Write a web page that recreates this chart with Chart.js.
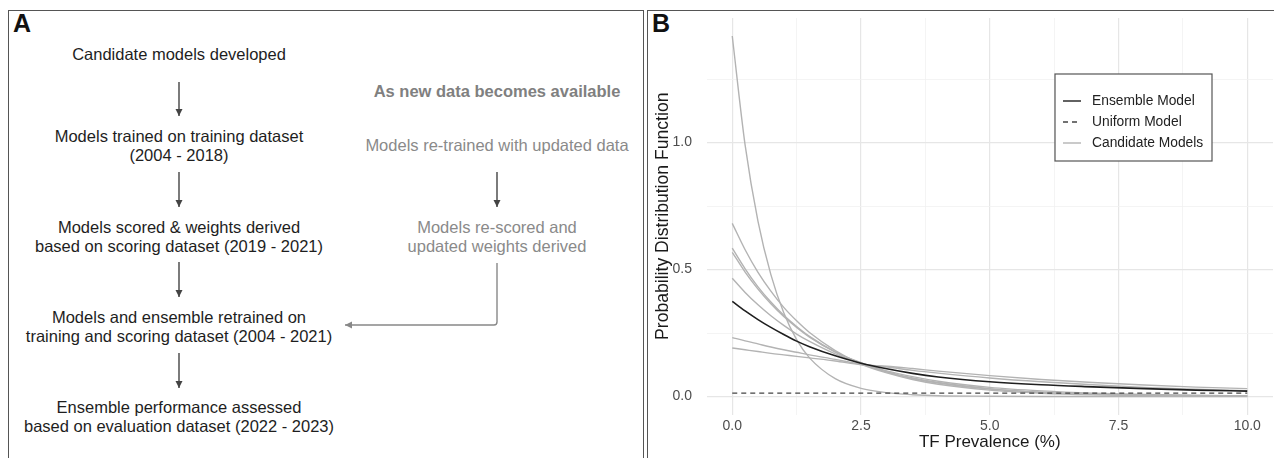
<!DOCTYPE html>
<html>
<head>
<meta charset="utf-8">
<script src="https://cdn.jsdelivr.net/npm/chart.js@4.4.0/dist/chart.umd.min.js"></script>
<style>
  body { margin: 0; width: 1274px; height: 458px; background: #fff; position: relative; overflow: hidden;
         font-family: "Liberation Sans", Arial, sans-serif; }
  .panel { position: absolute; border: 1.5px solid #555; box-sizing: border-box; }
  .tag { position: absolute; font-weight: bold; font-size: 25px; color: #111; }
  .step { position: absolute; width: 440px; text-align: center; font-size: 16.5px; line-height: 19px; color: #1e1e1e; white-space: nowrap; }
  .later { color: #8a8a8a; }
  #flow { position: absolute; left: 0; top: 0; }
  #wrapB { position: absolute; left: 648px; top: 11px; width: 626px; height: 447px; }
</style>
</head>
<body>
<div class="panel" style="left:8px;top:10px;width:636px;height:470px;"></div>
<div class="panel" style="left:647px;top:10px;width:640px;height:470px;"></div>
<div class="tag" style="left:13px;top:9px;">A</div>
<div class="tag" style="left:652px;top:9px;">B</div>

<div class="step" style="left:-41px;top:45px;">Candidate models developed</div>
<div class="step" style="left:-41px;top:127px;">Models trained on training dataset<br>(2004 - 2018)</div>
<div class="step" style="left:-41px;top:218px;">Models scored &amp; weights derived<br>based on scoring dataset (2019 - 2021)</div>
<div class="step" style="left:-41px;top:308px;">Models and ensemble retrained on<br>training and scoring dataset (2004 - 2021)</div>
<div class="step" style="left:-41px;top:398px;">Ensemble performance assessed<br>based on evaluation dataset (2022 - 2023)</div>

<div class="step later" style="left:277px;top:82px;font-weight:bold;color:#808080;">As new data becomes available</div>
<div class="step later" style="left:277px;top:136px;">Models re-trained with updated data</div>
<div class="step later" style="left:277px;top:218px;">Models re-scored and<br>updated weights derived</div>

<svg id="flow" width="640" height="458">
  <defs>
    <marker id="headDark" markerWidth="8" markerHeight="10" refX="7" refY="5" orient="auto" markerUnits="userSpaceOnUse">
      <path d="M0,1.5 L7,5 L0,8.5 Z" fill="#444"/>
    </marker>
    <marker id="headGray" markerWidth="8" markerHeight="10" refX="7" refY="5" orient="auto" markerUnits="userSpaceOnUse">
      <path d="M0,1.5 L7,5 L0,8.5 Z" fill="#888"/>
    </marker>
  </defs>
  <g stroke="#444" stroke-width="1.4" fill="none">
    <line x1="179" y1="82" x2="179" y2="116" marker-end="url(#headDark)"/>
    <line x1="179" y1="172" x2="179" y2="207" marker-end="url(#headDark)"/>
    <line x1="179" y1="262" x2="179" y2="297" marker-end="url(#headDark)"/>
    <line x1="179" y1="353" x2="179" y2="388" marker-end="url(#headDark)"/>
    <line x1="497" y1="172" x2="497" y2="207" marker-end="url(#headDark)"/>
  </g>
  <path d="M497,263 L497,322 Q497,325 494,325 L345,325" stroke="#888" stroke-width="1.4" fill="none" marker-end="url(#headGray)"/>
</svg>

<div id="wrapB"><canvas id="pdfChart" width="626" height="447"></canvas></div>

<script>
// TF prevalence (%) sample points
const prevalence = [0, 0.25, 0.5, 0.75, 1, 1.25, 1.5, 2, 2.5, 3, 3.5, 4, 5, 6, 7, 8, 9, 10];

const ensembleModel = [0.375, 0.337, 0.303, 0.272, 0.244, 0.218, 0.196, 0.16, 0.131, 0.109, 0.091, 0.077, 0.058, 0.046, 0.038, 0.031, 0.025, 0.021];
const uniformModel  = [0.013, 0.013, 0.013, 0.013, 0.013, 0.013, 0.013, 0.013, 0.013, 0.013, 0.013, 0.013, 0.013, 0.013, 0.013, 0.013, 0.013, 0.013];

const candidate1 = [1.42, 0.99, 0.69, 0.48, 0.33, 0.224, 0.152, 0.07, 0.032, 0.015, 0.007, 0.003, 0.001, 0, 0, 0, 0, 0];
const candidate2 = [0.682, 0.578, 0.489, 0.415, 0.351, 0.298, 0.252, 0.181, 0.128, 0.093, 0.067, 0.048, 0.025, 0.013, 0.0066, 0.0034, 0.0017, 0.0009];
const candidate3 = [0.584, 0.503, 0.432, 0.372, 0.32, 0.276, 0.237, 0.176, 0.131, 0.096, 0.071, 0.053, 0.029, 0.016, 0.0087, 0.0048, 0.0026, 0.0014];
const candidate4 = [0.568, 0.49, 0.423, 0.365, 0.315, 0.272, 0.234, 0.175, 0.133, 0.098, 0.073, 0.055, 0.031, 0.017, 0.0095, 0.0053, 0.003, 0.0017];
const candidate5 = [0.466, 0.41, 0.361, 0.318, 0.28, 0.246, 0.217, 0.168, 0.132, 0.101, 0.078, 0.06, 0.036, 0.022, 0.013, 0.0078, 0.0047, 0.0028];
const candidate6 = [0.232, 0.219, 0.207, 0.195, 0.184, 0.174, 0.164, 0.146, 0.127, 0.116, 0.103, 0.092, 0.073, 0.058, 0.046, 0.036, 0.029, 0.023];
const candidate7 = [0.191, 0.184, 0.177, 0.17, 0.164, 0.158, 0.152, 0.14, 0.125, 0.119, 0.11, 0.1, 0.082, 0.067, 0.055, 0.045, 0.037, 0.031];
const candidates = [candidate1, candidate2, candidate3, candidate4, candidate5, candidate6, candidate7];

// axis ticks (majors labelled, minors only get a grid line)
const xTicks = [0, 1.25, 2.5, 3.75, 5, 6.25, 7.5, 8.75, 10];
const xTickLabels = ['0.0', '', '2.5', '', '5.0', '', '7.5', '', '10.0'];
const yTicks = [0, 0.25, 0.5, 0.75, 1, 1.25];
const yTickLabels = ['0.0', '', '0.5', '', '1.0', ''];

const legendLabels = ['Ensemble Model', 'Uniform Model', 'Candidate Models'];

const toPoints = (ys) => ys.map((y, i) => ({ x: prevalence[i], y: y }));

Chart.defaults.font.family = '"Liberation Sans", Arial, sans-serif';

const datasets = [
  { label: legendLabels[1], data: toPoints(uniformModel), borderColor: '#444', borderWidth: 1.3, borderDash: [5, 4] },
  { label: legendLabels[0], data: toPoints(ensembleModel), borderColor: '#1f1f1f', borderWidth: 1.6 }
];
candidates.forEach((c, i) => {
  datasets.push({ label: legendLabels[2] + ' ' + (i + 1), data: toPoints(c), borderColor: '#b3b3b3', borderWidth: 1.4 });
});

// ggplot style legend box inside the panel
const boxLegend = {
  id: 'boxLegend',
  afterDatasetsDraw(chart) {
    const ctx = chart.ctx;
    const bx = 407, by = 63, bw = 157, bh = 87;
    ctx.save();
    ctx.fillStyle = '#fff';
    ctx.fillRect(bx, by, bw, bh);
    ctx.strokeStyle = '#555';
    ctx.lineWidth = 1.2;
    ctx.strokeRect(bx, by, bw, bh);
    const styles = [
      { color: '#1f1f1f', dash: [] },
      { color: '#444', dash: [5, 4] },
      { color: '#b3b3b3', dash: [] }
    ];
    ctx.font = '13.8px "Liberation Sans", Arial, sans-serif';
    ctx.textBaseline = 'middle';
    legendLabels.forEach((lab, i) => {
      const ly = by + 27 + i * 21;
      ctx.beginPath();
      ctx.setLineDash(styles[i].dash);
      ctx.strokeStyle = styles[i].color;
      ctx.lineWidth = 1.4;
      ctx.moveTo(bx + 8, ly);
      ctx.lineTo(bx + 26, ly);
      ctx.stroke();
      ctx.setLineDash([]);
      ctx.fillStyle = '#222';
      ctx.fillText(lab, bx + 37, ly);
    });
    ctx.restore();
  }
};

const isMajorX = (v) => xTickLabels[xTicks.indexOf(v)] !== '';
const isMajorY = (v) => yTickLabels[yTicks.indexOf(v)] !== '';

const noPad = (scale) => {
  scale.paddingTop = 0; scale.paddingBottom = 0;
  scale.paddingLeft = 0; scale.paddingRight = 0;
};

const pdfChart = document.getElementById('pdfChart').getContext('2d');

new Chart(pdfChart, {
  type: 'line',
  data: { datasets: datasets },
  plugins: [boxLegend],
  options: {
    responsive: false,
    animation: false,
    layout: { padding: { left: 0, top: 7, right: 1, bottom: 0 } },
    elements: {
      point: { radius: 0 },
      line: { cubicInterpolationMode: 'monotone', fill: false }
    },
    plugins: {
      legend: { display: false },
      tooltip: { enabled: false }
    },
    scales: {
      x: {
        type: 'linear',
        min: -0.5,
        max: 10.5,
        afterBuildTicks: (scale) => { scale.ticks = xTicks.map(v => ({ value: v })); },
        afterFit: (scale) => { scale.height = 43.5; noPad(scale); },
        ticks: {
          autoSkip: false,
          maxRotation: 0,
          padding: 3,
          color: '#4d4d4d',
          font: { size: 14 },
          callback: (v) => xTickLabels[xTicks.indexOf(v)]
        },
        grid: {
          drawTicks: false,
          color: (c) => isMajorX(c.tick.value) ? '#e6e6e6' : '#f1f1f1',
          lineWidth: (c) => isMajorX(c.tick.value) ? 1.2 : 0.8
        },
        border: { display: false },
        title: {
          display: true,
          text: 'TF Prevalence (%)',
          color: '#1a1a1a',
          font: { size: 17 },
          padding: { top: 0, bottom: 5.8 }
        }
      },
      y: {
        type: 'linear',
        min: -0.071,
        max: 1.491,
        afterBuildTicks: (scale) => { scale.ticks = yTicks.map(v => ({ value: v })); },
        afterFit: (scale) => { scale.width = 58.5; noPad(scale); },
        ticks: {
          autoSkip: false,
          padding: 14.5,
          color: '#4d4d4d',
          font: { size: 14 },
          callback: (v) => yTickLabels[yTicks.indexOf(v)]
        },
        grid: {
          drawTicks: false,
          color: (c) => isMajorY(c.tick.value) ? '#e6e6e6' : '#f1f1f1',
          lineWidth: (c) => isMajorY(c.tick.value) ? 1.2 : 0.8
        },
        border: { display: false },
        title: {
          display: true,
          text: 'Probability Distribution Function',
          color: '#1a1a1a',
          font: { size: 17.6 },
          padding: { top: 4.5, bottom: 0 }
        }
      }
    }
  }
});
</script>
</body>
</html>
